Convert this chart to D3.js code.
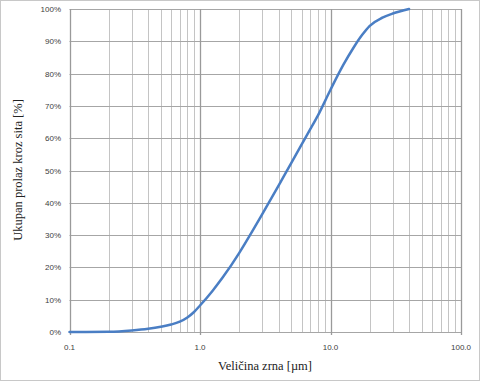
<!DOCTYPE html>
<html><head><meta charset="utf-8">
<script src="https://cdn.jsdelivr.net/npm/d3@7"></script>
<style>body{margin:0;background:#fff}svg{display:block}</style>
</head><body>
<svg id="c" width="480" height="381"></svg>
<script>
const sizes = [0.1, 0.2, 0.3, 0.4, 0.5, 0.6, 0.7, 0.8, 0.9, 1.0, 1.25, 1.5, 2, 2.5, 3, 4, 5, 6, 7, 8, 10, 12.5, 15, 17.5, 20, 25, 30, 40];
const passing = [0, 0.1, 0.5, 1.0, 1.6, 2.3, 3.2, 4.5, 6.2, 8.2, 12.8, 17.0, 24.5, 31, 36.5, 45.3, 52.3, 58, 62.8, 67, 75, 82.6, 88, 92, 94.8, 97.3, 98.6, 100];
const xTicks = [0.1, 1, 10, 100];
const yTicks = [0,10,20,30,40,50,60,70,80,90,100];
const xTitle = "Veličina zrna [µm]";
const yTitle = "Ukupan prolaz kroz sita [%]";

const svg = d3.select("#c");
svg.append("rect").attr("x",0.5).attr("y",0.5).attr("width",479).attr("height",380)
  .attr("fill","#fff").attr("stroke","#c8c8c8");

const L=69.5, R=461, T=9, B=332;
const x = d3.scaleLog().domain([0.1,100]).range([L,R]);
const y = d3.scaleLinear().domain([0,100]).range([B,T]);

const minors=[];
for (let d=0.1; d<100; d*=10) for (let k=2;k<=9;k++) minors.push(+(d*k).toPrecision(3));
svg.append("g").selectAll("line").data(minors).join("line")
  .attr("x1",d=>Math.round(x(d))+0.5).attr("x2",d=>Math.round(x(d))+0.5)
  .attr("y1",T).attr("y2",B).attr("stroke","#c4c4c4").attr("stroke-width",1);
svg.append("g").selectAll("line").data(yTicks).join("line")
  .attr("x1",L).attr("x2",R).attr("y1",d=>Math.round(y(d))+0.5).attr("y2",d=>Math.round(y(d))+0.5)
  .attr("stroke","#a6a6a6").attr("stroke-width",1);
svg.append("g").selectAll("line").data(xTicks).join("line")
  .attr("x1",d=>Math.round(x(d))+0.5).attr("x2",d=>Math.round(x(d))+0.5)
  .attr("y1",T).attr("y2",B+3).attr("stroke","#9a9a9a").attr("stroke-width",1.3);

svg.append("g").selectAll("text").data(yTicks).join("text")
  .attr("x",61).attr("y",d=>y(d)+3).attr("text-anchor","end")
  .attr("font-family","Liberation Sans, Arial, sans-serif").attr("font-size",8).attr("fill","#404040")
  .text(d=>d+"%");
svg.append("g").selectAll("text").data(xTicks).join("text")
  .attr("x",d=>x(d)).attr("y",350).attr("text-anchor","middle")
  .attr("font-family","Liberation Sans, Arial, sans-serif").attr("font-size",8).attr("fill","#404040")
  .text(d=>d.toFixed(1));

svg.append("text").attr("x",265).attr("y",370).attr("text-anchor","middle")
  .attr("font-family","Liberation Serif, DejaVu Serif, serif").attr("font-size",12.5).attr("fill","#222")
  .text(xTitle);
svg.append("text").attr("transform","translate(22,170) rotate(-90)").attr("text-anchor","middle")
  .attr("font-family","Liberation Serif, DejaVu Serif, serif").attr("font-size",12.5).attr("fill","#222")
  .text(yTitle);

const line = d3.line().x(d=>x(d[0])).y(d=>y(d[1])).curve(d3.curveMonotoneX);
svg.append("path").datum(sizes.map((s,i)=>[s,passing[i]]))
  .attr("d",line).attr("fill","none").attr("stroke","#4a7ec4").attr("stroke-width",2.5)
  .attr("stroke-linejoin","round").attr("stroke-linecap","round");
</script>
</body></html>
